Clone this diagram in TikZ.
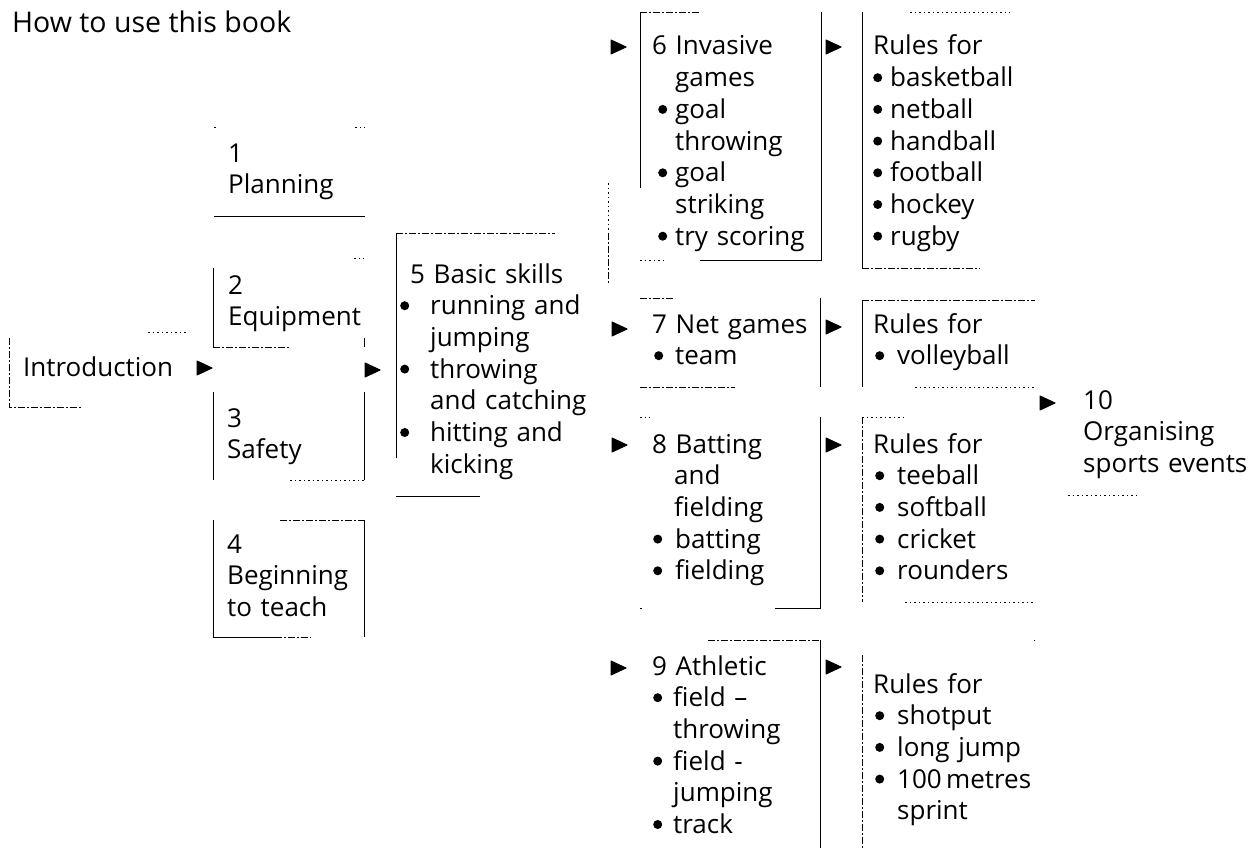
\documentclass[tikz,border=0pt]{standalone}
\usepackage{fontspec}
\setmainfont{Open Sans}
\usetikzlibrary{calc}
\newcommand\bodyfont{\fontsize{26}{31.7}\selectfont}
\newcommand\titlefont{\fontsize{28.5}{34}\selectfont}
\newcommand\bdot{\tikz[baseline=-9pt]\fill (0,0) circle[radius=4.5pt];}
\newcommand\bit[2]{\hspace*{#1}\llap{\bdot\hspace*{#2}}}
\newcommand\cnt[1]{\hspace*{#1}}
\tikzset{
  txt/.style={anchor=base west, inner sep=0pt, text width=320pt, align=left, font=\bodyfont},
  boxarea/.style={anchor=north west, inner sep=0pt, draw=none},
  edge/.style={line width=0.9pt},
  dashedge/.style={line width=0.9pt, dash pattern=on 7pt off 2pt on 2pt off 2pt},
  dotedge/.style={line width=0.8pt, dash pattern=on 1.5pt off 3pt},
  tip/.style={fill, draw, line width=1pt, line join=round},
}
\newcommand\boxat[5]{\node[boxarea, minimum width=#4pt, minimum height=#5pt] (#1) at (#2,#3) {};}
\newcommand\arr[3]{\coordinate (#1) at (#2,#3); \path[tip] (#1) -- ++(-15,-7) -- ++(0,14) -- cycle;}
\begin{document}
\begin{tikzpicture}[x=1pt,y=-1pt]
\useasboundingbox (0,0) rectangle (1255,848);
\fill[white] (0,0) rectangle (1255,848);

% title
\node[anchor=base west, inner sep=0pt, font=\titlefont] (title) at (12,33) {How to use this book};

% ---------- boxes (areas) ----------
\boxat{intro}{9}{332}{181}{75}
\boxat{b1}{214}{127}{151}{89}
\boxat{b2}{213}{258}{151}{89}
\boxat{b3}{213}{392}{151}{88}
\boxat{b4}{213}{520}{151}{117}
\boxat{b5}{396}{233}{212}{263}
\boxat{b6}{640}{12}{181}{248}
\boxat{r6}{862}{12}{148}{256}
\boxat{b7}{640}{298}{180}{89}
\boxat{r7}{862}{300}{173}{87}
\boxat{b8}{640}{417}{180}{191}
\boxat{r8}{862}{417}{173}{185}
\boxat{b9}{640}{640}{180}{208}
\boxat{r9}{862}{640}{173}{208}
\boxat{b10}{1068}{385}{100}{110}

% ---------- visible box edges ----------
% intro
\draw[dashedge] ([yshift=-6pt]intro.north west) -- (intro.south west) -- ++(73,0);
\draw[dotedge] ([xshift=-42pt]intro.north east) -- ([xshift=-3pt]intro.north east);
% 1
\draw[edge] (b1.south west) -- (b1.south east);
\draw[dotedge] (b1.north west) -- ++(2,0);
\draw[dotedge] ([xshift=-10pt]b1.north east) -- (b1.north east);
% 2
\draw[edge] ([yshift=-10pt]b2.north west) -- (b2.south west);
\draw[dashedge] (b2.south west) -- ++(77,0);
\draw[edge] ([yshift=9pt]b2.south east) -- (b2.south east);
\draw[dotedge] ([xshift=-10pt]b2.north east) -- (b2.north east);
% 3
\draw[edge] (b3.north west) -- (b3.south west);
\draw[edge] (b3.north east) -- (b3.south east);
\draw[dotedge] ([xshift=-74pt]b3.south east) -- (b3.south east);
% 4
\draw[edge] (b4.north west) -- (b4.south west);
\draw[edge] (b4.north east) -- (b4.south east);
\draw[dashedge] ([xshift=-84pt]b4.north east) -- (b4.north east);
\draw[edge] (b4.south west) -- ++(62,0);
\draw[dashedge] ([xshift=62pt]b4.south west) -- ++(36,0);
% 5
\draw[dashedge] (b5.north west) -- ++(159,0);
\draw[edge] (b5.north west) -- ++(0,225);
\draw[edge] (b5.south west) -- ++(84,0);
\draw[dashedge] (b5.north east) -- ++(0,50);
\draw[dotedge] ([yshift=50pt]b5.north east) -- ++(0,62);
% 6
\draw[dashedge] (b6.north west) -- ++(60,0);
\draw[edge] (b6.north west) -- ++(0,176);
\draw[edge] (b6.north east) -- (b6.south east) -- ++(-121,0);
\draw[dotedge] (b6.south west) -- ++(25,0);
% rules 6
\draw[edge] (r6.north west) -- (r6.south west);
\draw[dashedge] (r6.south west) -- ++(118,0);
\draw[dotedge] ([xshift=-100pt]r6.north east) -- (r6.north east);
% 7
\draw[dashedge] (b7.north west) -- ++(35,0);
\draw[edge] (b7.north east) -- (b7.south east);
\draw[dashedge] (b7.south west) -- ++(95,0);
% rules 7
\draw[dashedge] (r7.north west) -- (r7.north east);
\draw[edge] (r7.north west) -- (r7.south west);
\draw[dotedge] ([xshift=-120pt]r7.south east) -- (r7.south east);
% 8
\draw[dotedge] (b8.north west) -- ++(10,0);
\draw[edge] (b8.north east) -- (b8.south east) -- ++(-45,0);
\draw[dotedge] (b8.south west) -- ++(4,0);
% rules 8
\draw[dotedge] (r8.north west) -- ++(43,0);
\draw[dashedge] (r8.north west) -- (r8.south west);
\draw[dotedge] ([xshift=-130pt]r8.south east) -- (r8.south east);
% 9
\draw[dashedge] ([xshift=-112pt]b9.north east) -- (b9.north east);
\draw[edge] (b9.north east) -- (b9.south east);
% rules 9
\draw[dashedge] ([yshift=-15pt]r9.north west) -- (r9.south west);
\draw[dotedge] (r9.north east) -- ++(-2,0);
% 10
\draw[dotedge] (b10.south west) -- ++(70,0);

% ---------- arrowheads ----------
\arr{a0}{212}{368}
\arr{a1}{380}{370}
\arr{a6}{626}{47}
\arr{a7}{627}{329}
\arr{a8}{627}{445}
\arr{a9}{626}{668}
\arr{s6}{841}{47}
\arr{s7}{841}{327}
\arr{s8}{841}{445}
\arr{s9}{841}{667}
\arr{a10}{1055}{403}

% ---------- texts ----------
\node[txt] (tIntro) at (23,376) {Introduction};
\node[txt] (t1) at (228,162) {1\\Planning};
\node[txt] (t2) at (228,294) {2\\Equipment};
\node[txt] (t3) at (227,427) {3\\Safety};
\node[txt] (t4) at (227,553) {4\\Beginning\\to teach};
\node[txt] (t5) at (410,283) {5 Basic skills\\
  \bit{20pt}{21pt}running and\\\cnt{20pt}jumping\\
  \bit{20pt}{21pt}throwing\\\cnt{20pt}and catching\\
  \bit{20pt}{21pt}hitting and\\\cnt{20pt}kicking};
\node[txt] (t6) at (652,55) {6 Invasive\\\cnt{23pt}games\\
  \bit{23pt}{8pt}goal\\\cnt{23pt}throwing\\
  \bit{23pt}{8pt}goal\\\cnt{23pt}striking\\
  \bit{23pt}{8pt}try scoring};
\node[txt] (u6) at (873,55) {Rules for\\
  \bit{17pt}{8pt}basketball\\\bit{17pt}{8pt}netball\\\bit{17pt}{8pt}handball\\
  \bit{17pt}{8pt}football\\\bit{17pt}{8pt}hockey\\\bit{17pt}{8pt}rugby};
\node[txt] (t7) at (652,333) {7 Net games\\\bit{23pt}{12pt}team};
\node[txt] (u7) at (873,333) {Rules for\\\bit{24pt}{13pt}volleyball};
\node[txt] (t8) at (652,453) {8 Batting\\\cnt{22pt}and\\\cnt{22pt}fielding\\
  \bit{23pt}{13pt}batting\\\bit{23pt}{13pt}fielding};
\node[txt] (u8) at (873,453) {Rules for\\
  \bit{24pt}{13pt}teeball\\\bit{24pt}{13pt}softball\\\bit{24pt}{13pt}cricket\\\bit{24pt}{13pt}rounders};
\node[txt] (t9) at (652,675) {9 Athletic\\
  \bit{21pt}{11pt}field –\\\cnt{21pt}throwing\\
  \bit{21pt}{11pt}field -\\\cnt{21pt}jumping\\
  \bit{21pt}{11pt}track};
\node[txt] (u9) at (873,693) {Rules for\\
  \bit{24pt}{13pt}shotput\\\bit{24pt}{13pt}long jump\\\bit{24pt}{13pt}100\,metres\\\cnt{24pt}sprint};
\node[txt] (t10) at (1083,409) {10\\Organising\\sports events};
\end{tikzpicture}
\end{document}
